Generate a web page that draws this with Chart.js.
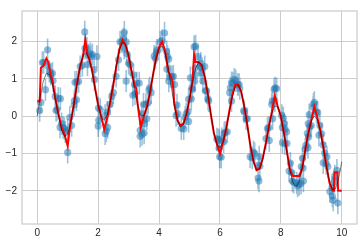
<!DOCTYPE html>
<html><head><meta charset="utf-8">
<script src="https://cdn.jsdelivr.net/npm/chart.js@4/dist/chart.umd.min.js"></script>
<style>html,body{margin:0;padding:0;background:#fff}#wrap{width:364px;height:244px}</style>
</head><body><div id="wrap"><canvas id="c" width="364" height="244"></canvas></div>
<script>
// Observed data points (x, y), each with error bar +/- errSize
const ptsX = [0.08,0.12,0.17,0.21,0.27,0.34,0.34,0.40,0.45,0.50,0.52,0.59,0.62,0.65,0.69,0.76,0.75,0.80,0.85,0.89,0.92,1.00,1.00,1.07,1.13,
1.21,1.22,1.29,1.24,1.30,1.36,1.41,1.48,1.56,1.57,1.63,1.65,1.68,1.74,1.77,1.81,1.87,1.88,1.96,2.01,2.07,2.02,2.00,2.23,2.23,2.27,2.30,2.31,
2.39,2.45,2.50,2.59,2.67,2.72,2.78,2.83,2.86,2.86,2.92,2.94,2.92,3.00,3.05,3.16,3.19,3.27,3.35,3.14,3.21,3.38,3.43,3.44,3.38,3.49,3.50,3.51,3.52,
3.57,3.60,3.64,3.67,3.69,3.74,3.84,3.88,3.91,3.93,4.04,4.10,4.18,4.25,4.26,4.28,4.32,4.32,4.37,4.42,4.47,4.51,4.56,4.59,4.62,4.73,4.81,4.86,4.89,4.95,4.97,4.97,
5.03,5.06,5.08,5.10,5.17,5.19,5.15,5.20,5.19,5.28,5.35,5.37,5.39,5.41,5.44,5.50,5.52,5.56,5.61,5.63,5.90,5.95,5.98,5.97,5.99,6.04,6.06,6.12,6.14,6.17,6.24,
6.32,6.34,6.38,6.38,6.43,6.47,6.52,6.58,6.63,6.65,6.78,6.80,6.86,6.90,6.99,7.06,7.10,7.14,7.25,7.28,7.27,7.29,7.31,
7.51,7.56,7.60,7.62,7.70,7.72,7.78,7.81,7.86,7.80,7.73,8.03,8.05,8.08,8.11,8.14,8.19,8.05,8.13,8.20,8.27,8.31,8.36,8.38,8.42,8.52,8.55,8.60,8.66,
8.67,8.71,8.74,8.73,8.80,8.82,8.87,8.89,8.91,8.90,8.93,8.95,9.00,9.06,9.07,9.10,9.17,9.21,9.25,9.28,9.34,9.39,9.44,9.39,9.49,9.51,9.54,
9.61,9.68,9.69,9.72,9.76,9.77,9.84,9.87];
const ptsY = [0.15,0.37,1.44,1.44,0.71,1.78,1.35,1.20,1.12,1.15,0.95,0.53,0.15,0.18,0.48,0.47,-0.30,-0.20,-0.30,-0.33,-0.42,-0.37,-0.97,-0.03,-0.25,
0.30,0.41,0.44,0.91,0.92,0.93,1.33,1.36,2.26,1.82,1.82,1.38,1.64,1.68,1.60,1.65,1.25,0.98,1.60,0.22,0.18,-0.11,-0.26,0.02,-0.47,-0.40,0.11,-0.30,
0.32,0.53,0.63,1.07,1.51,1.99,1.99,2.08,2.25,1.82,1.99,1.68,0.94,1.42,1.38,1.11,0.85,0.89,0.89,0.56,0.60,-0.38,0.06,-0.49,-0.54,0.32,-0.10,-0.45,-0.20,
0.32,-0.07,0.36,0.70,0.76,0.63,1.61,1.55,1.70,1.77,1.99,2.03,2.23,1.73,1.26,1.60,1.53,0.94,1.07,1.05,1.07,0.85,0.02,0.30,0.06,-0.33,-0.34,-0.03,0.06,0.12,-0.14,0.46,
1.03,0.46,0.76,0.72,0.94,1.11,1.86,1.88,1.29,1.60,1.33,1.42,1.16,1.29,0.94,1.33,0.68,0.68,0.46,0.41,-0.61,-0.63,-0.65,-0.86,-1.09,-1.10,-0.60,-0.69,-0.46,-0.43,-0.42,
0.63,0.76,0.41,0.90,0.89,0.99,0.95,0.85,0.85,0.74,0.15,0.11,-0.07,-0.07,-1.09,-1.12,-0.96,-1.00,-1.66,-1.74,-1.31,-1.09,-1.34,
-0.60,-0.33,-0.30,-0.65,0.32,0.41,0.72,0.76,0.74,0.41,-0.07,0.02,-0.30,-0.05,-0.20,-0.35,-0.42,-0.71,-0.74,-0.73,-1.47,-1.26,-1.51,-1.74,-1.77,-1.79,-1.87,-1.83,-1.80,
-1.35,-1.13,-1.74,-1.39,-0.88,-0.78,-0.46,-0.84,-0.56,-0.20,0.04,-0.29,-0.25,0.24,0.32,0.37,0.11,0.10,-0.51,-0.25,-0.47,-0.77,-0.99,-1.25,-1.27,-1.09,-1.35,
-2.02,-1.91,-2.14,-2.25,-1.75,-1.60,-1.45,-2.33];
const errSize = 0.3;

// Fitted model (red)
const fitX = [0.00,0.08,0.12,0.20,0.30,0.36,0.42,0.50,0.60,0.70,0.80,0.90,1.00,1.05,1.10,1.20,1.30,1.40,1.50,1.58,1.65,1.70,1.80,1.90,2.00,2.10,2.20,2.30,2.40,2.50,
2.60,2.70,2.80,2.90,3.00,3.10,3.20,3.25,3.30,3.40,3.50,3.60,3.70,3.80,3.90,4.00,4.10,4.20,4.30,4.40,4.45,4.50,4.60,4.70,4.80,4.90,5.00,5.10,5.15,5.20,5.30,5.40,5.50,
5.60,5.70,5.80,5.90,6.00,6.10,6.20,6.30,6.40,6.50,6.60,6.70,6.80,6.90,7.00,7.10,7.20,7.30,7.40,7.50,7.60,7.70,7.80,7.90,8.00,8.10,8.20,8.30,8.40,8.50,8.60,8.70,8.80,
8.90,9.00,9.10,9.20,9.30,9.40,9.50,9.60,9.70,9.74,9.76,9.86,9.88,10.00];
const fitY = [0.40,0.40,1.30,1.35,1.55,1.45,1.20,0.95,0.45,0.05,-0.30,-0.50,-0.80,-0.45,-0.15,0.30,0.85,1.30,1.60,2.05,1.65,1.55,1.25,0.75,0.30,0.00,-0.35,-0.05,0.40,0.85,
1.35,1.80,2.05,1.90,1.60,1.20,0.80,0.75,0.30,-0.30,0.00,0.25,0.62,1.10,1.55,1.85,2.00,1.75,1.20,1.05,0.90,0.35,-0.10,-0.25,-0.20,0.05,0.45,0.95,1.65,1.45,1.45,1.35,1.05,
0.60,0.05,-0.45,-0.75,-1.00,-0.70,-0.35,0.10,0.55,0.85,0.85,0.65,0.25,-0.25,-0.80,-1.20,-1.45,-1.40,-1.15,-0.75,-0.30,0.10,0.55,0.25,0.00,-0.45,-0.95,-1.45,-1.60,-1.60,-1.60,-1.40,-0.90,
-0.45,-0.10,0.25,-0.05,-0.40,-0.85,-1.35,-1.80,-2.00,-2.00,-1.50,-1.50,-2.00,-2.00];

// True curve (grey)
const trueX = [0.0,0.1,0.2,0.3,0.4,0.5,0.6,0.7,0.8,0.9,1.0,1.1,1.2,1.3,1.4,1.5,1.6,1.7,1.8,1.9,2.0,2.1,2.2,2.3,2.4,2.5,2.6,2.7,2.8,2.9,3.0,3.1,3.2,3.3,3.4,3.5,3.6,3.7,3.8,3.9,
4.0,4.1,4.2,4.3,4.4,4.5,4.6,4.7,4.8,4.9,5.0,5.1,5.2,5.3,5.4,5.5,5.6,5.7,5.8,5.9,6.0,6.1,6.2,6.3,6.4,6.5,6.6,6.7,6.8,6.9,7.0,7.1,7.2,7.3,7.4,7.5,7.6,7.7,7.8,7.9,
8.0,8.1,8.2,8.3,8.4,8.5,8.6,8.7,8.8,8.9,9.0,9.1,9.2,9.3,9.4,9.5,9.6,9.7,9.8,9.9,10.0];
const trueY = [0,0.53,0.94,1.15,1.11,0.85,0.44,-0.01,-0.37,-0.54,-0.48,-0.18,0.29,0.82,1.30,1.62,1.71,1.55,1.20,0.74,0.30,-0.01,-0.11,0.04,0.40,0.88,1.38,1.78,1.98,1.93,
1.65,1.21,0.71,0.29,0.03,0.01,0.22,0.62,1.10,1.53,1.82,1.88,1.70,1.31,0.80,0.29,-0.10,-0.29,-0.23,0.05,0.47,0.92,1.28,1.45,1.38,1.08,0.61,0.06,-0.43,-0.75,
-0.85,-0.70,-0.36,0.07,0.49,0.78,0.84,0.66,0.27,-0.25,-0.78,-1.21,-1.44,-1.42,-1.17,-0.77,-0.32,0.07,0.28,0.25,-0.01,-0.45,-0.98,-1.46,-1.79,-1.89,-1.75,-1.40,-0.93,-0.47,
-0.13,0.01,-0.09,-0.41,-0.88,-1.37,-1.76,-1.97,-1.94,-1.66,-1.22];

const xTicks = [0,2,4,6,8,10];
const xTickLabels = ['0','2','4','6','8','10'];
const yTicks = [-2,-1,0,1,2];
const yTickLabels = ['\u22122','\u22121','0','1','2'];

const points = ptsX.map((x,i)=>({x:x,y:ptsY[i]}));
const errData = [];
ptsX.forEach((x,i)=>{errData.push({x:x,y:ptsY[i]-errSize},{x:x,y:ptsY[i]+errSize},{x:x,y:null});});
const fitData = fitX.map((x,i)=>({x:x,y:fitY[i]}));
const trueData = trueX.map((x,i)=>({x:x,y:trueY[i]}));

const frame = {id:'frame',afterDraw(chart){const a=chart.chartArea,c=chart.ctx;c.save();c.strokeStyle='#cccccc';c.lineWidth=1.25;c.strokeRect(a.left,a.top,a.right-a.left,a.bottom-a.top);c.restore();}};
const FONT = {family:'"Liberation Sans", Arial, sans-serif', size:10};

new Chart(document.getElementById('c'),{
  type:'scatter',
  data:{datasets:[
    {type:'line',data:trueData,borderColor:'rgba(0,0,0,0.5)',borderWidth:1,pointRadius:0,tension:0,order:1},
    {type:'line',data:fitData,borderColor:'#ff0000',borderWidth:2,pointRadius:0,tension:0,order:2},
    {type:'scatter',data:points,backgroundColor:'rgba(31,119,180,0.5)',borderWidth:0,pointRadius:3.6,order:3},
    {type:'line',data:errData,borderColor:'rgba(31,119,180,0.45)',borderWidth:1.6,pointRadius:0,spanGaps:false,order:4}
  ]},
  options:{
    responsive:false,animation:false,devicePixelRatio:1,
    layout:{padding:{left:0,right:7,top:7,bottom:0}},
    plugins:{legend:{display:false},tooltip:{enabled:false}},
    scales:{
      x:{type:'linear',min:-0.5,max:10.5,
        afterBuildTicks:s=>{s.ticks=xTicks.map(v=>({value:v}));},
        afterFit:s=>{s.height=20;},
        grid:{color:'#cccccc',lineWidth:1,drawTicks:false},
        border:{display:false},
        ticks:{padding:3,color:'#262626',font:FONT,callback:(v)=>xTickLabels[xTicks.indexOf(v)]}},
      y:{type:'linear',min:-2.89,max:2.82,
        afterBuildTicks:s=>{s.ticks=yTicks.map(v=>({value:v}));},
        afterFit:s=>{s.width=22;},
        grid:{color:'#cccccc',lineWidth:1,drawTicks:false},
        border:{display:false},
        ticks:{padding:5,color:'#262626',font:FONT,callback:(v)=>yTickLabels[yTicks.indexOf(v)]}}
    }
  },
  plugins:[frame]
});
</script></body></html>
